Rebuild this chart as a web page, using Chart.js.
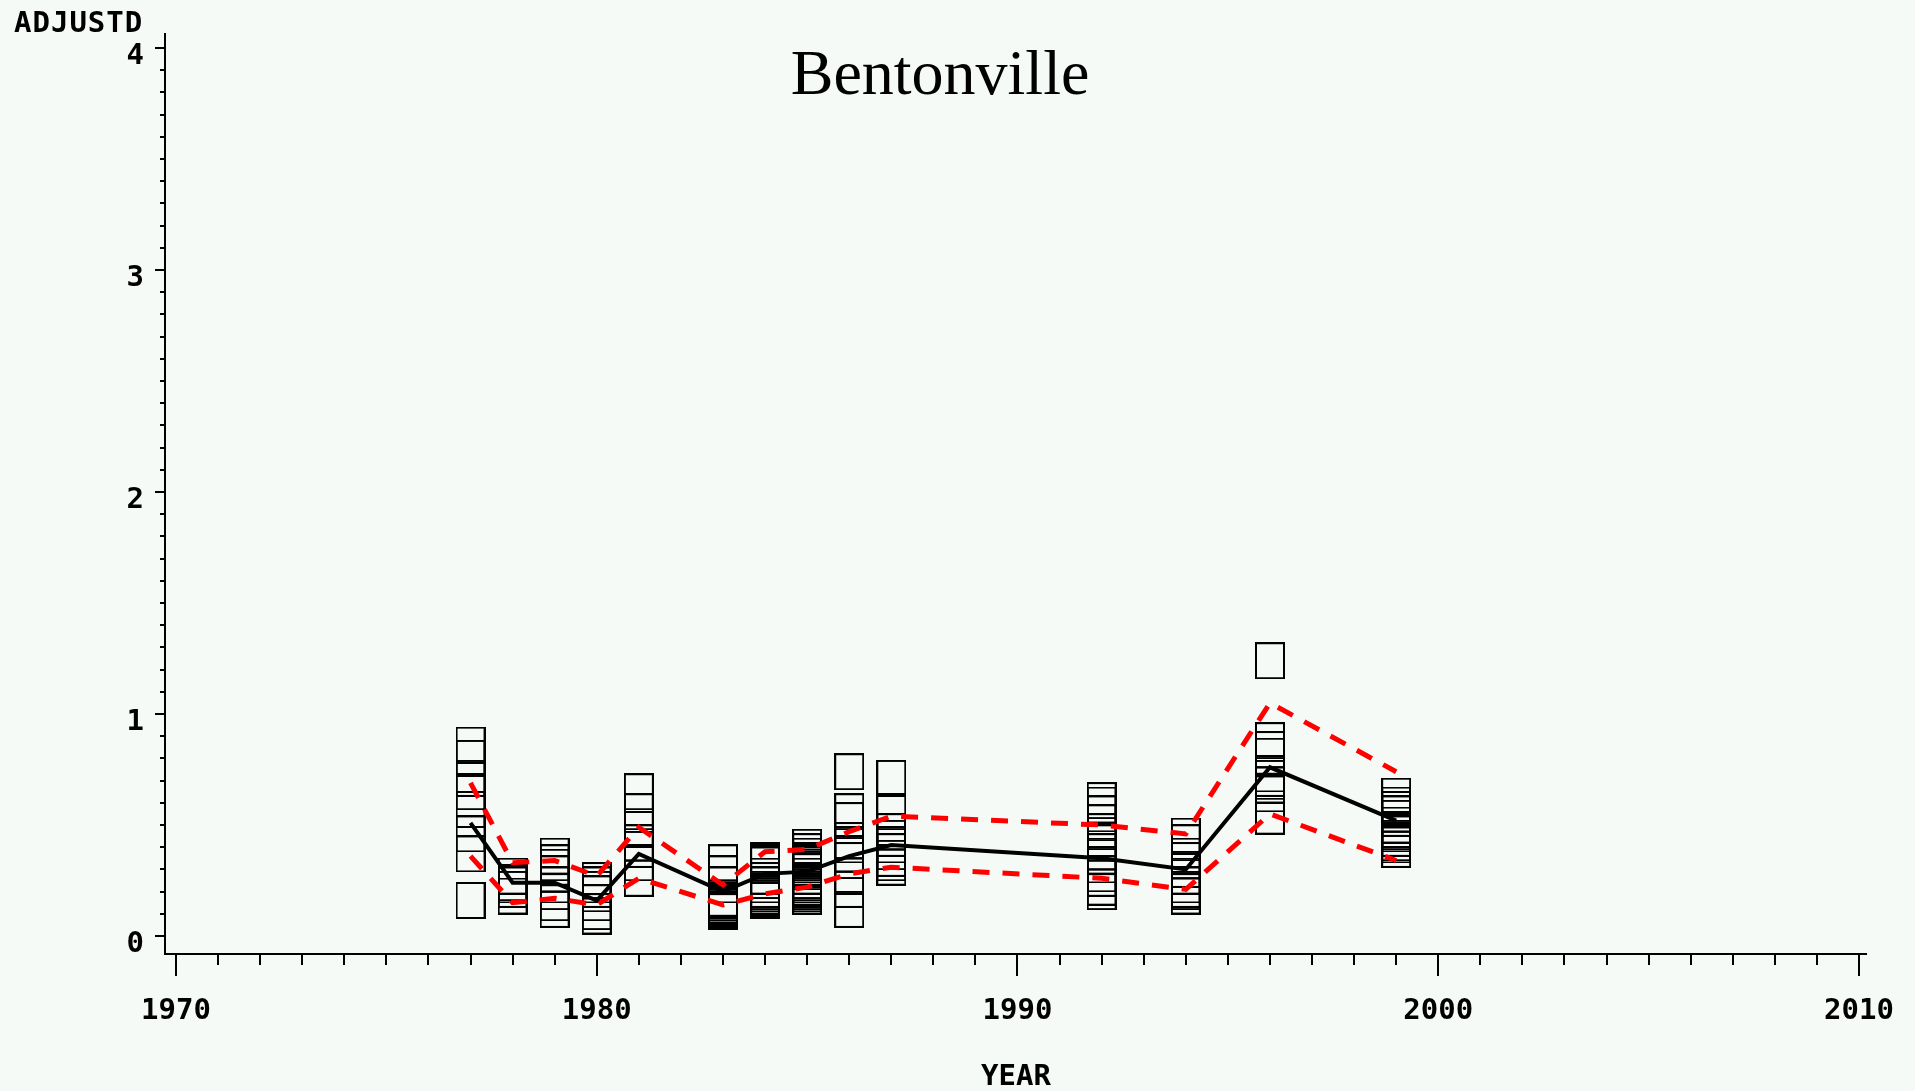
<!DOCTYPE html>
<html>
<head>
<meta charset="utf-8">
<title>Bentonville</title>
<script src="https://cdn.jsdelivr.net/npm/chart.js@4.4.0/dist/chart.umd.min.js"></script>
<style>
  html, body { margin: 0; padding: 0; background: #f6faf7; }
  canvas { display: block; }
</style>
</head>
<body>
<canvas id="chart" width="1915" height="1091"></canvas>
<script>
// Años con muestras y curvas resumen
const years = [1977, 1978, 1979, 1980, 1981, 1983, 1984, 1985, 1986, 1987, 1992, 1994, 1996, 1999];
const meanLine  = [0.51, 0.24, 0.24, 0.16, 0.37, 0.20, 0.28, 0.29, 0.36, 0.41, 0.35, 0.30, 0.76, 0.52];
const upperBand = [0.69, 0.33, 0.34, 0.27, 0.49, 0.23, 0.38, 0.39, 0.47, 0.54, 0.50, 0.46, 1.05, 0.74];
const lowerBand = [0.36, 0.15, 0.17, 0.14, 0.26, 0.14, 0.19, 0.22, 0.28, 0.31, 0.26, 0.21, 0.55, 0.34];

// Observaciones individuales por año
const obs1977 = [0.86, 0.80, 0.71, 0.65, 0.57, 0.46, 0.37, 0.16];
const obs1978 = [0.27, 0.24, 0.23, 0.21, 0.18];
const obs1979 = [0.36, 0.33, 0.31, 0.28, 0.23, 0.20, 0.15, 0.12];
const obs1980 = [0.25, 0.23, 0.21, 0.19, 0.15, 0.11, 0.09];
const obs1981 = [0.65, 0.56, 0.48, 0.42, 0.39, 0.33, 0.26];
const obs1983 = [0.33, 0.28, 0.23, 0.17, 0.16, 0.15, 0.14, 0.135, 0.13, 0.12, 0.115, 0.11];
const obs1984 = [0.34, 0.33, 0.32, 0.27, 0.25, 0.23, 0.21, 0.20, 0.19, 0.18, 0.17, 0.16];
const obs1985 = [0.40, 0.38, 0.36, 0.34, 0.33, 0.32, 0.31, 0.30, 0.29, 0.27, 0.25, 0.24,
                 0.23, 0.22, 0.21, 0.20, 0.19, 0.18];
const obs1986 = [0.74, 0.56, 0.52, 0.43, 0.41, 0.37, 0.34, 0.27, 0.21, 0.12];
const obs1987 = [0.71, 0.56, 0.47, 0.44, 0.41, 0.38, 0.35, 0.33, 0.31];
const obs1992 = [0.61, 0.59, 0.55, 0.51, 0.47, 0.42, 0.38, 0.36, 0.32, 0.28, 0.26, 0.22, 0.20];
const obs1994 = [0.45, 0.42, 0.36, 0.34, 0.30, 0.27, 0.23, 0.21, 0.20, 0.18];
const obs1996 = [1.24, 0.88, 0.84, 0.81, 0.73, 0.71, 0.68, 0.64, 0.54];
const obs1999 = [0.63, 0.59, 0.57, 0.55, 0.53, 0.50, 0.48, 0.47, 0.46, 0.44, 0.42, 0.41, 0.39];
const observations = [obs1977, obs1978, obs1979, obs1980, obs1981, obs1983, obs1984,
                      obs1985, obs1986, obs1987, obs1992, obs1994, obs1996, obs1999];

// Marcas de los ejes
const xTickValues = [1970, 1980, 1990, 2000, 2010];
const yTickValues = [0, 1, 2, 3, 4];

const monoFont = { family: 'DejaVu Sans Mono', weight: 'bold', size: 29 };

// Marcador rectangular hueco (símbolo "box" de SAS)
function makeBoxMarker(w, h) {
    const c = document.createElement('canvas');
    c.width = w;
    c.height = h;
    const g = c.getContext('2d');
    g.strokeStyle = '#000';
    g.lineWidth = 2;
    g.strokeRect(1, 1, w - 2, h - 2);
    return c;
}

const toPoints = (xs, ys) => xs.map((x, i) => ({ x: x, y: ys[i] }));

const obsPoints = [];
years.forEach((yr, i) => {
    observations[i].forEach(v => obsPoints.push({ x: yr, y: v }));
});

// Ejes, marcas menores y textos al estilo SAS
const sasFrame = {
    id: 'sasFrame',
    beforeDatasetsDraw(chart) {
        const { ctx, chartArea: a, scales: { x, y } } = chart;
        ctx.save();
        ctx.strokeStyle = '#000';
        ctx.lineWidth = 2;
        ctx.beginPath();
        ctx.moveTo(a.left, a.top);
        ctx.lineTo(a.left, a.bottom);
        ctx.lineTo(a.right, a.bottom);
        for (let i = 0; i <= 40; i++) {
            const py = Math.round(y.getPixelForValue(i / 10));
            const len = i % 10 === 0 ? 10 : 5;
            ctx.moveTo(a.left - len, py);
            ctx.lineTo(a.left, py);
        }
        for (let yr = 1970; yr <= 2010; yr++) {
            const px = Math.round(x.getPixelForValue(yr));
            const len = yr % 10 === 0 ? 22 : 11;
            ctx.moveTo(px, a.bottom);
            ctx.lineTo(px, a.bottom + len);
        }
        ctx.stroke();
        ctx.restore();
    },
    afterDraw(chart) {
        const ctx = chart.ctx;
        ctx.save();
        ctx.fillStyle = '#000';
        ctx.textBaseline = 'alphabetic';
        ctx.font = '64px "Liberation Serif"';
        ctx.textAlign = 'center';
        ctx.fillText('Bentonville', 940, 94);
        ctx.font = 'bold 29px "DejaVu Sans Mono"';
        ctx.letterSpacing = '1px';
        ctx.textAlign = 'left';
        ctx.fillText('ADJUSTD', 14, 32);
        ctx.restore();
    }
};

new Chart(document.getElementById('chart'), {
    type: 'scatter',
    data: {
        datasets: [
            {
                type: 'line',
                label: 'Media',
                data: toPoints(years, meanLine),
                borderColor: '#000',
                borderWidth: 4,
                pointRadius: 0,
                tension: 0,
                fill: false
            },
            {
                type: 'line',
                label: 'Superior',
                data: toPoints(years, upperBand),
                borderColor: '#ff0000',
                borderWidth: 5,
                borderDash: [17, 13],
                pointRadius: 0,
                tension: 0,
                fill: false
            },
            {
                type: 'line',
                label: 'Inferior',
                data: toPoints(years, lowerBand),
                borderColor: '#ff0000',
                borderWidth: 5,
                borderDash: [17, 13],
                pointRadius: 0,
                tension: 0,
                fill: false
            },
            {
                label: 'ADJUSTD',
                data: obsPoints,
                pointStyle: makeBoxMarker(30, 37),
                pointRadius: 15,
                showLine: false
            }
        ]
    },
    options: {
        responsive: false,
        animation: false,
        devicePixelRatio: 1,
        layout: { padding: { left: 0, right: 48, top: 33, bottom: 0 } },
        plugins: {
            legend: { display: false },
            tooltip: { enabled: false },
            title: { display: false }
        },
        scales: {
            x: {
                type: 'linear',
                min: 1969.739,
                max: 2010.19,
                afterFit: s => {
                    s.height = 137;
                    s.paddingLeft = 0;
                    s.paddingRight = 0;
                },
                afterBuildTicks: s => { s.ticks = xTickValues.map(v => ({ value: v })); },
                grid: { display: false, drawTicks: false },
                border: { display: false },
                ticks: {
                    autoSkip: false,
                    maxRotation: 0,
                    padding: 40,
                    color: '#000',
                    font: monoFont,
                    callback: v => String(v)
                },
                title: {
                    display: true,
                    text: 'YEAR',
                    color: '#000',
                    font: { family: 'DejaVu Sans Mono', weight: 'bold', size: 29, lineHeight: 0.9 },
                    padding: { top: 0, bottom: 0 }
                }
            },
            y: {
                type: 'linear',
                min: -0.081,
                max: 4.0676,
                afterFit: s => {
                    s.width = 165;
                    s.paddingTop = 0;
                    s.paddingBottom = 0;
                },
                afterBuildTicks: s => { s.ticks = yTickValues.map(v => ({ value: v })); },
                grid: { display: false, drawTicks: false },
                border: { display: false },
                ticks: {
                    padding: 21,
                    labelOffset: 8,
                    color: '#000',
                    font: monoFont,
                    callback: v => String(v)
                }
            }
        }
    },
    plugins: [sasFrame]
});
</script>
</body>
</html>
